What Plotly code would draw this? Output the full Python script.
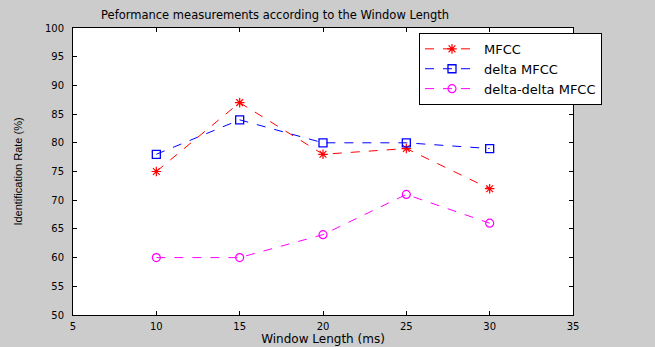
import plotly.graph_objects as go

window_ms = [10, 15, 20, 25, 30]
mfcc = [75, 87, 78, 79, 72]
delta_mfcc = [78, 84, 80, 80, 79]
delta_delta_mfcc = [60, 60, 64, 71, 66]

x_ticks = [5, 10, 15, 20, 25, 30, 35]
y_ticks = [50, 55, 60, 65, 70, 75, 80, 85, 90, 95, 100]

FAMILY = "DejaVu Sans, Verdana, sans-serif"
tick_font = dict(family=FAMILY, size=10, color="#000000")

fig = go.Figure()
fig.add_trace(go.Scatter(
    x=window_ms, y=mfcc, name="MFCC", mode="lines+markers",
    line=dict(color="#ff0000", width=1, dash="dash"),
    marker=dict(symbol="asterisk", size=8, line=dict(color="#ff0000", width=1.2), color="#ff0000"),
))
fig.add_trace(go.Scatter(
    x=window_ms, y=delta_mfcc, name="delta MFCC", mode="lines+markers",
    line=dict(color="#0000ff", width=1, dash="dash"),
    marker=dict(symbol="square-open", size=8, line=dict(color="#0000ff", width=1.3), color="#0000ff"),
))
fig.add_trace(go.Scatter(
    x=window_ms, y=delta_delta_mfcc, name="delta-delta MFCC", mode="lines+markers",
    line=dict(color="#ff00ff", width=1, dash="dash"),
    marker=dict(symbol="circle-open", size=8, line=dict(color="#ff00ff", width=1.2), color="#ff00ff"),
))

axis_common = dict(
    showgrid=False, zeroline=False, showline=True, linecolor="#000000", linewidth=1,
    mirror="ticks", ticks="inside", ticklen=4, tickcolor="#000000",
    tickfont=tick_font, automargin=False,
)

fig.update_layout(
    width=655, height=347,
    margin=dict(l=73, r=82, t=28, b=32),
    paper_bgcolor="#cccccc", plot_bgcolor="#ffffff",
    font=dict(family=FAMILY, size=11, color="#000000"),
    title=dict(text="Peformance measurements according to the Window Length",
               x=0.42, xanchor="center", y=0.957, yanchor="middle",
               font=dict(family=FAMILY, size=11.5)),
    xaxis=dict(range=[5, 35], tickvals=x_ticks, ticklabelstandoff=2,
               title=dict(text="Window Length (ms)", standoff=1,
                          font=dict(family=FAMILY, size=12)),
               **axis_common),
    yaxis=dict(range=[50, 100], tickvals=y_ticks, ticklabelstandoff=6,
               title=dict(text="Identification Rate (%)", standoff=20,
                          font=dict(family="Liberation Sans Narrow, Liberation Sans, sans-serif", size=11)),
               **axis_common),
    legend=dict(x=0.692, y=0.983, xanchor="left", yanchor="top",
                bgcolor="#ffffff", bordercolor="#000000", borderwidth=1,
                font=dict(family=FAMILY, size=13), tracegroupgap=0, itemwidth=54),
    showlegend=True,
)

fig.write_html("out.html")
